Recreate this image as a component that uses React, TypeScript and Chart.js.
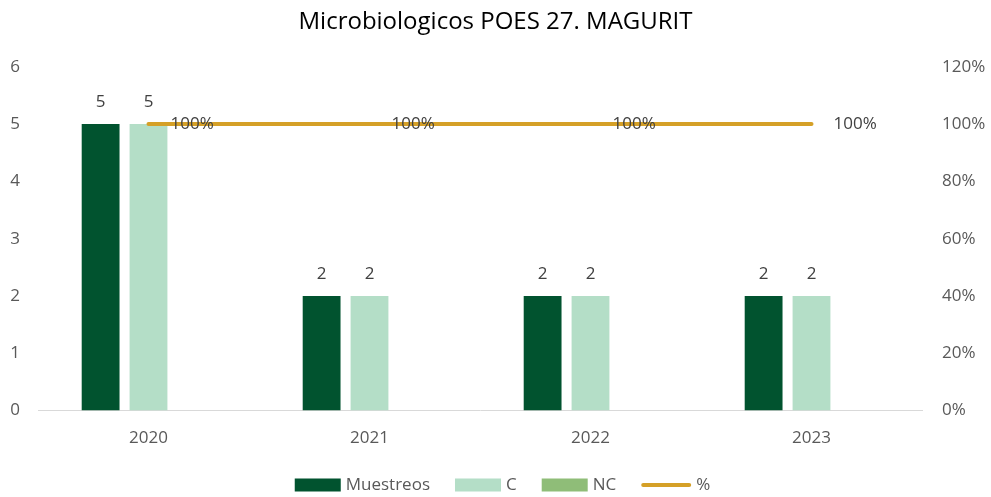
import React, { useEffect, useRef } from "react";
import { Chart, registerables } from "chart.js";

Chart.register(...registerables);

const TITLE = "Microbiologicos POES 27. MAGURIT";
const years = ["2020", "2021", "2022", "2023"];
const muestreos = [5, 2, 2, 2];
const conformes = [5, 2, 2, 2];
const noConformes = [0, 0, 0, 0];
const porcentaje = [1, 1, 1, 1];
const seriesNames = ["Muestreos", "C", "NC", "%"];

const FONT = "'Open Sans', sans-serif";
const COL_DARK = "#01532f";
const COL_MINT = "#b4dec7";
const COL_NC = "#8fbd78";
const COL_GOLD = "#d5a027";
const TEXT = "#595959";

const labelsPlugin = {
  id: "valueLabels",
  afterDatasetsDraw(chart: any) {
    const ctx = chart.ctx;
    ctx.save();
    ctx.font = `17px ${FONT}`;
    ctx.fillStyle = "#404040";
    chart.data.datasets.forEach((ds: any, i: number) => {
      const meta = chart.getDatasetMeta(i);
      if (meta.hidden) return;
      meta.data.forEach((el: any, j: number) => {
        const v = ds.data[j];
        if (ds.type === "line") {
          ctx.textAlign = "left";
          ctx.textBaseline = "middle";
          ctx.fillText(Math.round(v * 100) + "%", el.x + 22, el.y);
        } else if (v > 0) {
          ctx.textAlign = "center";
          ctx.textBaseline = "bottom";
          ctx.fillText(String(v), el.x, el.y - 13);
        }
      });
    });
    ctx.restore();
  },
};

const legendPlugin = {
  id: "customLegend",
  afterDraw(chart: any) {
    const ctx = chart.ctx;
    ctx.save();
    ctx.font = `17px ${FONT}`;
    const boxW = 46;
    const lineW = 50;
    const gapText = 5;
    const gapItem = 25;
    const items = chart.data.datasets.map((ds: any) => {
      const sw = ds.type === "line" ? lineW : boxW;
      const tw = ctx.measureText(ds.label).width;
      return { ds, sw, tw, w: sw + gapText + tw };
    });
    const total = items.reduce((a: number, it: any) => a + it.w, 0) + gapItem * (items.length - 1);
    let x = chart.width / 2 - total / 2 + 7;
    const y = chart.height - 12;
    items.forEach((it: any) => {
      if (it.ds.type === "line") {
        ctx.strokeStyle = it.ds.borderColor;
        ctx.lineWidth = 4;
        ctx.lineCap = "round";
        ctx.beginPath();
        ctx.moveTo(x + 2, y);
        ctx.lineTo(x + it.sw - 2, y);
        ctx.stroke();
      } else {
        ctx.fillStyle = it.ds.backgroundColor;
        ctx.fillRect(x, y - 6.5, it.sw, 13);
      }
      ctx.fillStyle = TEXT;
      ctx.textAlign = "left";
      ctx.textBaseline = "middle";
      ctx.fillText(it.ds.label, x + it.sw + gapText, y);
      x += it.w + gapItem;
    });
    ctx.restore();
  },
};

export default function App() {
  const ref = useRef<HTMLCanvasElement | null>(null);

  useEffect(() => {
    if (!ref.current) return;
    const chart = new Chart(ref.current, {
      type: "bar",
      data: {
        labels: years,
        datasets: [
          {
            type: "bar",
            label: seriesNames[0],
            data: muestreos,
            backgroundColor: COL_DARK,
            yAxisID: "y",
            order: 1,
            categoryPercentage: 0.65,
            barPercentage: 0.79,
          },
          {
            type: "bar",
            label: seriesNames[1],
            data: conformes,
            backgroundColor: COL_MINT,
            yAxisID: "y",
            order: 1,
            categoryPercentage: 0.65,
            barPercentage: 0.79,
          },
          {
            type: "bar",
            label: seriesNames[2],
            data: noConformes,
            backgroundColor: COL_NC,
            yAxisID: "y",
            order: 1,
            categoryPercentage: 0.65,
            barPercentage: 0.79,
          },
          {
            type: "line",
            label: seriesNames[3],
            data: porcentaje,
            borderColor: COL_GOLD,
            backgroundColor: COL_GOLD,
            borderWidth: 4,
            borderCapStyle: "round",
            pointRadius: 0,
            yAxisID: "y1",
            order: 0,
          } as any,
        ],
      },
      options: {
        animation: false,
        responsive: true,
        maintainAspectRatio: false,
        layout: { padding: { left: 0, right: 0, top: 0, bottom: 32 } },
        plugins: {
          legend: { display: false },
          tooltip: { enabled: false },
          title: {
            display: true,
            text: TITLE,
            color: "#000000",
            font: { family: FONT, size: 24, weight: "normal" },
            padding: { top: 8, bottom: 30 },
          },
        },
        scales: {
          x: {
            offset: true,
            grid: { display: false, drawTicks: false },
            border: { display: true, color: "#d9d9d9", width: 1 },
            ticks: { color: TEXT, font: { family: FONT, size: 17 }, padding: 17 },
          },
          y: {
            position: "left",
            min: 0,
            max: 6,
            grid: { display: false, drawTicks: false },
            border: { display: false },
            ticks: { stepSize: 1, color: TEXT, font: { family: FONT, size: 17 }, padding: 18 },
            afterFit: (s: any) => {
              s.width = 38;
            },
          },
          y1: {
            position: "right",
            min: 0,
            max: 1.2,
            grid: { display: false, drawTicks: false },
            border: { display: false },
            ticks: {
              stepSize: 0.2,
              color: TEXT,
              font: { family: FONT, size: 17 },
              padding: 20,
              callback: (v: any) => Math.round(Number(v) * 100) + "%",
            },
            afterFit: (s: any) => {
              s.width = 69;
            },
          },
        },
      },
      plugins: [labelsPlugin, legendPlugin],
    });
    return () => chart.destroy();
  }, []);

  return (
    <div style={{ position: "fixed", left: 0, top: 0, width: 991, height: 497, background: "#fff" }}>
      <canvas ref={ref} />
    </div>
  );
}
